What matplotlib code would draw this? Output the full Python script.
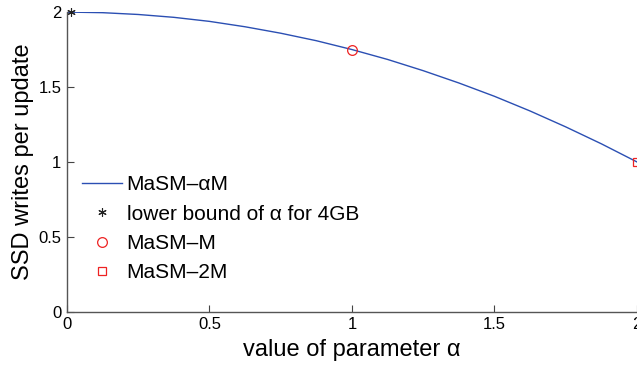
import numpy as np
import matplotlib.pyplot as plt

plt.rcParams['font.family'] = ['Liberation Sans', 'DejaVu Sans']

# SSD writes per update as a function of alpha
alpha = [0.0, 0.125, 0.25, 0.375, 0.5, 0.625, 0.75, 0.875, 1.0,
         1.125, 1.25, 1.375, 1.5, 1.625, 1.75, 1.875, 2.0]
writes = [2.0, 1.996, 1.984, 1.965, 1.938, 1.902, 1.859, 1.809, 1.75,
          1.684, 1.609, 1.527, 1.438, 1.340, 1.234, 1.121, 1.0]

# special points
lb_alpha, lb_writes = 0.015, 2.0
m_alpha, m_writes = 1.0, 1.75
m2_alpha, m2_writes = 2.0, 1.0

fig = plt.figure(figsize=(6.37, 3.66), dpi=100)
ax = fig.add_axes([0.105, 0.148, 0.895, 0.819])

ax.plot(alpha, writes, color='#2b4fb3', lw=1.0, label='MaSM\u2013\u03b1M')
ax.plot(lb_alpha, lb_writes, ls='none', marker=(6, 2, 0), ms=6, mew=0.8,
        color='#222222', label='lower bound of \u03b1 for 4GB', clip_on=False)
ax.plot(m_alpha, m_writes, ls='none', marker='o', ms=7, mfc='none', mew=0.9,
        color='#ee2222', label='MaSM\u2013M')
ax.plot(m2_alpha, m2_writes, ls='none', marker='s', ms=6, mfc='none', mew=0.9,
        color='#ee2222', label='MaSM\u20132M', clip_on=False)

ax.set_xlim(0, 2)
ax.set_ylim(0, 2)
ax.set_xticks([0, 0.5, 1, 1.5, 2])
ax.set_xticklabels(['0', '0.5', '1', '1.5', '2'])
ax.set_yticks([0, 0.5, 1, 1.5, 2])
ax.set_yticklabels(['0', '0.5', '1', '1.5', '2'])
ax.tick_params(direction='in', length=5, width=0.8, labelsize=12, colors='#444444',
               labelcolor='black', pad=4)
for side in ['top', 'right']:
    ax.spines[side].set_visible(False)
for side in ['left', 'bottom']:
    ax.spines[side].set_color('#555555')
    ax.spines[side].set_linewidth(1.0)

ax.set_xlabel('value of parameter \u03b1', fontsize=17, labelpad=5)
ax.set_ylabel('SSD writes per update', fontsize=17, labelpad=3)

ax.legend(loc='upper left', bbox_to_anchor=(0.026, 0.456), frameon=False, fontsize=15,
          handlelength=1.92, handletextpad=0.24, labelspacing=0.5,
          borderpad=0, borderaxespad=0)

fig.savefig('out.png', dpi=100)
